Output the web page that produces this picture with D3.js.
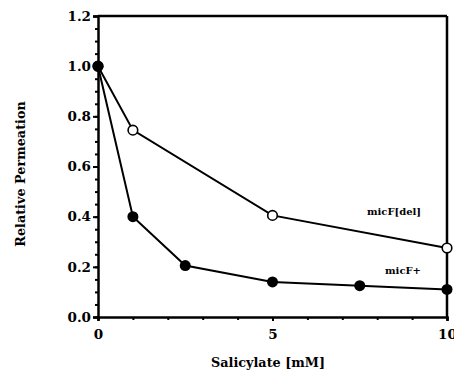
<!DOCTYPE html>
<html><head><meta charset="utf-8">
<script src="https://cdn.jsdelivr.net/npm/d3@7"></script>
<style>body{margin:0;background:#fff}</style>
</head><body><svg id="c" width="454" height="374"></svg>
<script>
const micFPlusX = [0, 1, 2.5, 5, 7.5, 10];
const micFPlusY = [1.0, 0.40, 0.205, 0.14, 0.125, 0.11];
const micFDelX = [0, 1, 5, 10];
const micFDelY = [1.0, 0.745, 0.405, 0.275];
const yTicks = [0, 0.2, 0.4, 0.6, 0.8, 1.0, 1.2];
const xTickLabels = [0, 5, 10];

const svg = d3.select("#c");
const x = d3.scaleLinear().domain([0, 10]).range([98, 447]);
const y = d3.scaleLinear().domain([0, 1.2]).range([317, 16]);
const font = "'DejaVu Serif', serif";

// frame top & right
svg.append("line").attr("x1", 98).attr("x2", 447).attr("y1", y(1.2)).attr("y2", y(1.2)).attr("stroke", "#000").attr("stroke-width", 2.5);
svg.append("line").attr("x1", 447).attr("x2", 447).attr("y1", y(1.2)).attr("y2", y(0)).attr("stroke", "#000").attr("stroke-width", 2.5);

// y axis
svg.append("g").attr("transform", "translate(98,0)")
  .call(d3.axisLeft(y).tickValues(yTicks).tickFormat(d3.format(".1f")).tickSize(5).tickPadding(2));
const yMinor = svg.append("g").attr("transform", "translate(98,0)")
  .call(d3.axisLeft(y).tickValues(d3.range(0, 1.2001, 0.05)).tickFormat("").tickSize(3));
yMinor.select(".domain").remove();
// x axis
svg.append("g").attr("transform", "translate(0,317)")
  .call(d3.axisBottom(x).tickValues(xTickLabels).tickSize(4).tickPadding(8));
const xMinor = svg.append("g").attr("transform", "translate(0,317)")
  .call(d3.axisBottom(x).tickValues(d3.range(0, 11, 1)).tickFormat("").tickSize(3));
xMinor.select(".domain").remove();
svg.selectAll(".domain").attr("stroke-width", 2.5).attr("stroke", "#000");
svg.selectAll(".tick line").attr("stroke-width", 2).attr("stroke", "#000");
svg.selectAll(".tick text").attr("font-family", font).attr("font-weight", "bold").attr("font-size", 13.5).attr("fill", "#000");

// lines
const line = d3.line().x(d => x(d[0])).y(d => y(d[1]));
const plus = micFPlusX.map((v, i) => [v, micFPlusY[i]]);
const del = micFDelX.map((v, i) => [v, micFDelY[i]]);
svg.append("path").datum(del).attr("d", line).attr("fill", "none").attr("stroke", "#000").attr("stroke-width", 2);
svg.append("path").datum(plus).attr("d", line).attr("fill", "none").attr("stroke", "#000").attr("stroke-width", 2);
svg.selectAll(".od").data(del).enter().append("circle")
  .attr("cx", d => x(d[0])).attr("cy", d => y(d[1])).attr("r", 4.8)
  .attr("fill", "#fff").attr("stroke", "#000").attr("stroke-width", 1.6);
svg.selectAll(".fd").data(plus).enter().append("circle")
  .attr("cx", d => x(d[0])).attr("cy", d => y(d[1])).attr("r", 5.5).attr("fill", "#000");

// labels
svg.append("text").attr("x", 394).attr("y", 215).attr("text-anchor", "middle")
  .attr("font-family", font).attr("font-weight", "bold").attr("font-size", 10).text("micF[del]");
svg.append("text").attr("x", 403).attr("y", 274).attr("text-anchor", "middle")
  .attr("font-family", font).attr("font-weight", "bold").attr("font-size", 10).text("micF+");
svg.append("text").attr("x", 268).attr("y", 367).attr("text-anchor", "middle")
  .attr("font-family", font).attr("font-weight", "bold").attr("font-size", 12.8).text("Salicylate [mM]");
svg.append("text").attr("transform", "translate(25,174) rotate(-90)").attr("text-anchor", "middle")
  .attr("font-family", font).attr("font-weight", "bold").attr("font-size", 12.8).text("Relative Permeation");
</script></body></html>
